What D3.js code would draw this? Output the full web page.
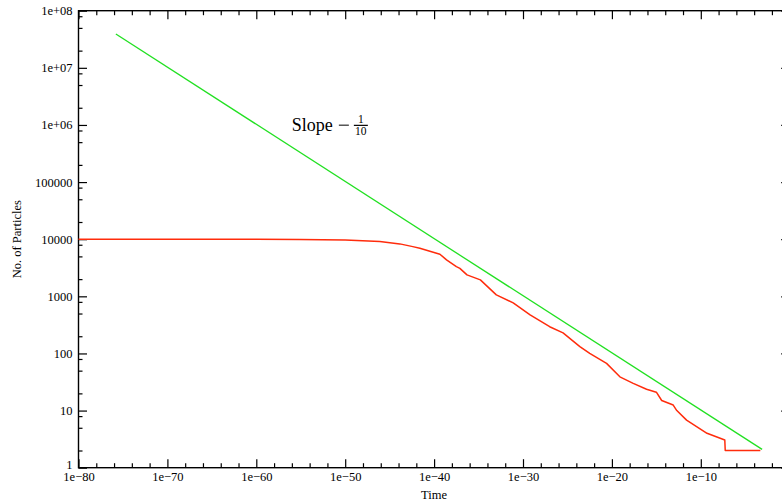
<!DOCTYPE html>
<html>
<head>
<meta charset="utf-8">
<script src="https://cdn.jsdelivr.net/npm/d3@7"></script>
<style>
  body { margin: 0; background: #fff; }
  text { font-family: "Liberation Serif", "Times New Roman", serif; }
</style>
</head>
<body>
<svg></svg>
<script>
const SVG_MEASURES = { width: 782, height: 504 }
const PLOT = { left: 78.5, right: 789.7, top: 10.7, bottom: 467.7 }

// simulation output: particle count against time
const redTime = [1e-80, 1e-70, 1e-60, 7.9e-56, 1e-50, 7.9e-47, 1.4e-44, 4e-43, 2.5e-42, 4.5e-40,
  2.5e-39, 3.2e-38, 7.9e-38, 5e-37, 1.6e-35, 1e-33, 7.9e-32, 6.3e-30, 1e-27, 3.2e-26,
  2.5e-24, 3.2e-23, 2.5e-21, 7.9e-20, 2.5e-18, 7.9e-17, 1e-15, 4e-15, 7.9e-14, 2e-13,
  2.5e-12, 5e-10, 5e-8, 5.6e-8, 5e-4]
const redCount = [10000, 10000, 9990, 9840, 9650, 9080, 8280, 7410, 6950, 5460,
  4340, 3310, 3090, 2370, 1940, 1060, 766, 472, 294, 229,
  132, 100, 67, 39, 30, 23.6, 21, 15, 12.5, 10,
  6.8, 4, 3.05, 2, 2]

// reference power law, slope -1/10
const greenTime = [1.6e-76, 7.9e-4]
const greenCount = [3.9e7, 2.09]

const xMajor = d3.range(-80, 1, 10).map(e => Math.pow(10, e))
const xMinor = d3.range(-80, 1, 2).filter(e => e % 10 !== 0).map(e => Math.pow(10, e))
const yMajor = d3.range(0, 9).map(e => Math.pow(10, e))
const yMinor = d3.range(0, 8).flatMap(e => [2, 5, 8].map(m => m * Math.pow(10, e)))

const svg = d3.select('svg')
  .attr('width', SVG_MEASURES.width)
  .attr('height', SVG_MEASURES.height)

const x = d3.scaleLog().domain([1e-80, 1]).range([PLOT.left, PLOT.right])
const y = d3.scaleLog().domain([1, 1e8]).range([PLOT.bottom, PLOT.top])

const xFormat = d => {
  const e = Math.round(Math.log10(d))
  return '1e' + (e < 0 ? '\u2212' + (-e) : '+' + e)
}
const yFormat = d => {
  const e = Math.round(Math.log10(d))
  return e < 6 ? String(d) : '1e+' + String(e).padStart(2, '0')
}

function drawAxis(axis, transform) {
  const g = svg.append('g').attr('transform', transform).call(axis)
  g.select('.domain').remove()
  g.selectAll('line').attr('stroke', '#000').attr('stroke-width', 1.2)
  g.selectAll('text').attr('font-size', 12.5).attr('fill', '#000')
  return g
}

// bottom
drawAxis(d3.axisBottom(x).tickValues(xMajor).tickFormat(xFormat).tickSize(-8.5).tickPadding(4.5),
  `translate(0,${PLOT.bottom})`).selectAll('.tick').filter(d => d === 1).select('text').remove()
drawAxis(d3.axisBottom(x).tickValues(xMinor).tickFormat('').tickSize(-4.5), `translate(0,${PLOT.bottom})`)
// top
drawAxis(d3.axisTop(x).tickValues(xMajor).tickFormat('').tickSize(-8.5), `translate(0,${PLOT.top})`)
drawAxis(d3.axisTop(x).tickValues(xMinor).tickFormat('').tickSize(-4.5), `translate(0,${PLOT.top})`)
// left
const yAxisG = drawAxis(d3.axisLeft(y).tickValues(yMajor).tickFormat(yFormat).tickSize(-8.5).tickPadding(6),
  `translate(${PLOT.left},0)`)
yAxisG.selectAll('.tick').filter(d => d === 1).select('text').attr('dy', '0.1em')
drawAxis(d3.axisLeft(y).tickValues(yMinor).tickFormat('').tickSize(-4), `translate(${PLOT.left},0)`)
// right
drawAxis(d3.axisRight(y).tickValues(yMajor).tickFormat('').tickSize(-8.5), `translate(${PLOT.right},0)`)
drawAxis(d3.axisRight(y).tickValues(yMinor).tickFormat('').tickSize(-4), `translate(${PLOT.right},0)`)

svg.append('rect')
  .attr('x', PLOT.left).attr('y', PLOT.top)
  .attr('width', PLOT.right - PLOT.left).attr('height', PLOT.bottom - PLOT.top)
  .attr('fill', 'none').attr('stroke', '#000').attr('stroke-width', 1.4)

const line = d3.line().x(d => x(d[0])).y(d => y(d[1]))

svg.append('path')
  .datum(d3.zip(greenTime, greenCount))
  .attr('fill', 'none').attr('stroke', '#22e022').attr('stroke-width', 1.3)
  .attr('d', line)

svg.append('path')
  .datum(d3.zip(redTime, redCount))
  .attr('fill', 'none').attr('stroke', '#ff2c0c').attr('stroke-width', 1.5)
  .attr('stroke-linejoin', 'round')
  .attr('d', line)

// axis titles
svg.append('text')
  .attr('x', (PLOT.left + PLOT.right) / 2).attr('y', 499)
  .attr('text-anchor', 'middle').attr('font-size', 12.5)
  .text('Time')

svg.append('text')
  .attr('transform', `translate(21,${(PLOT.top + PLOT.bottom) / 2}) rotate(-90)`)
  .attr('text-anchor', 'middle').attr('font-size', 12.5)
  .text('No. of Particles')

// slope annotation
const note = svg.append('g').attr('transform', `translate(${x(1e-56)},${y(Math.pow(10, 5.9))})`)
note.append('text').attr('font-size', 18).text('Slope')
note.append('line').attr('x1', 47).attr('x2', 57).attr('y1', -5.5).attr('y2', -5.5)
  .attr('stroke', '#000').attr('stroke-width', 1)
note.append('text').attr('x', 69).attr('y', -8).attr('font-size', 11.5).attr('text-anchor', 'middle').text('1')
note.append('line').attr('x1', 62).attr('x2', 76).attr('y1', -5.3).attr('y2', -5.3)
  .attr('stroke', '#000').attr('stroke-width', 1.2)
note.append('text').attr('x', 69).attr('y', 4.5).attr('font-size', 11.5).attr('text-anchor', 'middle').text('10')
</script>
</body>
</html>
